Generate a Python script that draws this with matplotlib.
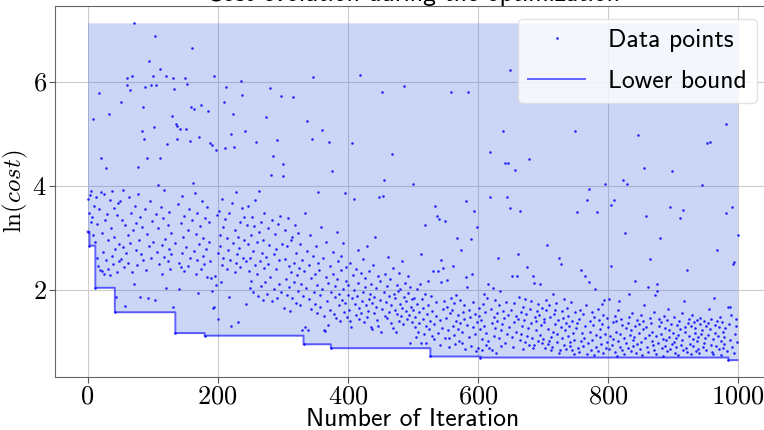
import numpy as np
import matplotlib
matplotlib.use("Agg")
import matplotlib.pyplot as plt
from matplotlib.ticker import FuncFormatter

# ln(cost), one value per iteration (0..999)
log_cost = [
    # 0-49
    3.12, 3.75, 3.48, 2.85, 3.82, 3.30, 3.90, 3.40, 3.05, 5.28,
    3.62, 2.92, 2.04, 3.78, 2.62, 3.26, 2.45, 5.79, 3.55, 2.38,
    4.54, 3.88, 2.36, 3.10, 2.72, 3.84, 2.30, 3.34, 2.58, 4.34,
    3.46, 2.41, 2.95, 5.38, 3.72, 2.28, 3.18, 2.66, 3.90, 2.50,
    3.02, 3.58, 1.57, 2.78, 1.87, 3.44, 2.34, 3.66, 2.88, 2.55,
    # 50-99
    3.70, 5.61, 2.60, 3.35, 2.82, 3.92, 2.44, 1.69, 3.25, 2.70,
    5.93, 6.08, 3.05, 2.52, 3.78, 2.90, 5.84, 3.48, 6.11, 2.35,
    3.15, 2.11, 7.13, 3.62, 2.76, 3.28, 2.48, 4.37, 3.85, 2.95,
    3.40, 1.86, 2.68, 5.06, 3.20, 2.58, 5.52, 4.89, 5.90, 3.55,
    2.38, 4.54, 3.08, 1.85, 2.84, 6.40, 3.70, 5.93, 2.62, 3.32,
    # 100-149
    2.92, 6.11, 5.12, 6.88, 1.80, 3.45, 5.94, 2.72, 4.02, 3.18,
    2.50, 6.24, 4.54, 3.60, 2.86, 2.30, 3.38, 2.64, 3.92, 2.98,
    2.03, 6.11, 4.80, 3.25, 2.55, 3.50, 2.78, 2.40, 3.10, 2.68,
    5.34, 1.68, 6.08, 5.85, 2.90, 1.17, 5.19, 4.89, 5.14, 3.65,
    2.01, 2.52, 5.09, 3.28, 2.44, 3.80, 2.70, 3.02, 2.36, 3.42,
    # 150-199
    6.08, 2.82, 5.09, 5.95, 3.15, 2.46, 3.55, 4.86, 2.62, 5.52,
    3.35, 6.64, 4.05, 5.47, 2.74, 3.86, 2.30, 3.08, 2.58, 3.48,
    1.94, 4.94, 2.88, 3.22, 5.56, 2.40, 3.70, 2.66, 3.00, 2.50,
    1.12, 3.38, 2.78, 2.25, 3.60, 5.43, 2.92, 3.30, 2.55, 4.83,
    2.22, 1.98, 4.78, 1.66, 6.11, 1.67, 2.26, 4.68, 2.09, 3.44,
    # 200-249
    2.70, 1.44, 3.52, 2.84, 3.05, 2.16, 3.75, 2.48, 3.20, 2.62,
    5.61, 4.72, 3.36, 5.90, 2.40, 3.00, 2.76, 1.86, 3.48, 2.58,
    5.00, 1.30, 3.66, 5.38, 2.90, 4.75, 2.34, 3.15, 2.52, 3.88,
    2.68, 3.02, 1.39, 2.80, 3.30, 2.44, 6.02, 3.58, 5.75, 2.62,
    2.95, 3.40, 5.06, 1.72, 2.56, 3.24, 2.88, 3.62, 2.36, 2.04,
    # 250-299
    2.62, 3.05, 2.18, 3.40, 2.75, 1.95, 3.22, 2.48, 3.73, 4.85,
    2.30, 2.92, 1.88, 3.12, 3.89, 2.55, 2.08, 3.30, 2.70, 1.80,
    2.96, 2.42, 3.48, 2.15, 5.33, 2.64, 1.92, 3.18, 2.50, 2.86,
    5.87, 2.25, 4.20, 1.79, 3.35, 4.58, 2.68, 2.02, 3.08, 2.40,
    2.78, 1.85, 4.87, 3.26, 2.12, 2.58, 3.42, 5.73, 1.95, 2.88,
    # 300-349
    4.19, 4.42, 1.66, 2.60, 3.15, 2.20, 2.84, 1.90, 3.38, 2.46,
    2.05, 1.59, 2.95, 2.34, 3.02, 1.84, 5.71, 2.52, 2.16, 3.25,
    1.75, 2.70, 2.28, 1.98, 3.10, 2.42, 1.70, 2.88, 2.12, 1.23,
    2.58, 1.88, 0.955, 2.36, 3.48, 1.28, 2.04, 2.74, 5.24, 1.23,
    2.48, 1.82, 3.05, 2.22, 1.64, 4.90, 2.66, 6.09, 1.95, 2.30,
    # 350-399
    1.72, 2.85, 2.10, 1.56, 2.52, 3.88, 2.38, 1.90, 1.68, 3.20,
    2.02, 5.08, 2.62, 1.50, 1.23, 1.21, 2.25, 2.92, 1.78, 1.33,
    2.14, 4.85, 2.45, 1.62, 0.88, 1.96, 4.29, 2.30, 2.72, 1.54,
    2.08, 1.86, 1.46, 3.12, 2.20, 2.56, 1.70, 1.92, 1.40, 2.38,
    2.66, 1.80, 2.02, 2.90, 1.58, 1.74, 3.87, 2.18, 2.44, 1.48,
    # 400-449
    1.90, 2.10, 1.62, 1.40, 2.52, 1.29, 1.84, 4.83, 2.28, 3.75,
    2.00, 1.72, 2.40, 1.52, 1.88, 2.76, 2.14, 1.44, 1.66, 6.13,
    2.32, 1.55, 1.78, 2.60, 1.95, 1.38, 2.22, 2.06, 1.70, 1.48,
    2.84, 1.60, 1.82, 2.36, 1.92, 1.28, 2.12, 1.74, 1.24, 2.48,
    1.56, 1.86, 3.02, 2.04, 1.68, 1.42, 2.26, 1.30, 3.78, 1.80,
    # 450-499
    2.18, 1.20, 5.81, 1.64, 3.81, 4.12, 1.96, 2.30, 1.50, 1.76,
    1.45, 2.08, 2.64, 1.58, 1.88, 2.20, 1.36, 1.70, 4.62, 1.27,
    2.42, 1.92, 1.62, 1.84, 1.19, 1.54, 2.10, 1.98, 2.32, 1.40,
    1.72, 2.02, 1.50, 2.56, 1.66, 1.34, 1.86, 5.91, 2.14, 1.60,
    1.78, 1.44, 2.26, 1.94, 1.52, 0.98, 2.06, 1.68, 1.82, 1.38,
    # 500-549
    1.62, 4.04, 1.85, 1.28, 1.48, 1.10, 2.02, 1.72, 1.20, 1.58,
    1.36, 2.11, 2.68, 0.98, 1.82, 1.44, 1.66, 1.15, 3.24, 1.92,
    1.30, 0.98, 1.54, 2.18, 1.70, 1.24, 1.40, 0.72, 1.88, 1.60,
    1.12, 2.37, 1.34, 1.05, 3.62, 1.76, 1.50, 3.42, 2.36, 1.18,
    3.36, 1.42, 0.94, 2.58, 2.15, 1.26, 1.64, 2.42, 1.78, 1.08,
    # 550-599
    3.32, 1.46, 2.19, 1.68, 1.22, 0.90, 1.07, 1.56, 5.81, 1.84,
    1.62, 1.30, 2.45, 1.74, 1.14, 0.96, 1.90, 1.40, 3.00, 1.52,
    1.25, 1.02, 1.80, 1.36, 2.76, 0.97, 1.20, 1.58, 1.70, 1.44,
    0.86, 2.24, 3.70, 1.32, 2.05, 5.81, 1.62, 1.10, 1.48, 0.92,
    2.97, 2.30, 1.28, 1.76, 3.51, 1.54, 1.16, 0.82, 1.38, 3.20,
    # 600-649
    0.88, 1.66, 1.50, 1.24, 0.70, 1.42, 0.84, 1.06, 1.72, 1.92,
    1.30, 1.58, 0.95, 1.18, 1.84, 2.11, 1.02, 0.88, 3.78, 4.65,
    1.64, 1.36, 0.84, 2.04, 1.48, 1.12, 1.80, 1.26, 0.79, 1.56,
    1.40, 2.61, 1.70, 1.08, 1.97, 0.92, 1.22, 1.34, 1.60, 5.06,
    1.46, 0.98, 4.43, 1.76, 1.15, 3.78, 4.43, 1.52, 1.28, 3.58,
    # 650-699
    6.23, 1.62, 1.10, 2.27, 0.90, 1.74, 1.38, 4.31, 1.50, 1.20,
    2.26, 2.68, 1.44, 1.86, 1.04, 3.52, 1.58, 1.16, 1.30, 0.86,
    1.68, 1.42, 1.82, 1.00, 1.54, 1.12, 2.44, 1.26, 0.94, 4.51,
    1.64, 1.36, 1.78, 1.08, 0.89, 2.27, 0.94, 2.13, 1.48, 1.22,
    1.40, 1.60, 1.72, 1.02, 1.52, 1.14, 2.12, 1.32, 1.66, 0.98,
    # 700-749
    1.06, 1.38, 1.44, 0.88, 1.80, 1.62, 2.86, 1.24, 0.96, 1.02,
    1.70, 1.48, 1.10, 0.84, 0.90, 1.92, 1.20, 1.54, 1.34, 1.62,
    1.74, 1.16, 1.00, 1.42, 0.78, 2.61, 0.84, 2.50, 1.28, 1.08,
    1.60, 1.46, 1.82, 0.94, 1.22, 0.86, 1.36, 1.66, 1.50, 1.12,
    1.30, 1.00, 0.92, 1.76, 1.40, 0.85, 1.18, 0.76, 1.04, 1.58,
    # 750-799
    5.06, 1.26, 1.36, 3.50, 0.88, 0.80, 1.44, 1.62, 2.39, 1.02,
    1.18, 1.54, 0.92, 1.08, 2.27, 1.30, 1.70, 0.76, 3.72, 0.98,
    2.15, 3.93, 1.40, 1.20, 0.84, 1.04, 1.58, 1.32, 0.74, 1.48,
    2.02, 1.14, 0.90, 3.49, 0.82, 1.64, 1.42, 1.24, 1.10, 0.96,
    1.73, 1.34, 1.52, 0.78, 1.81, 1.16, 4.04, 0.88, 1.00, 1.46,
    # 800-849
    1.28, 1.83, 0.86, 1.12, 2.46, 3.63, 0.94, 1.06, 1.38, 3.72,
    1.50, 0.80, 1.20, 1.40, 0.72, 1.62, 1.02, 1.78, 0.90, 1.16,
    1.44, 1.32, 0.84, 4.12, 0.76, 1.08, 3.10, 0.98, 1.26, 4.03,
    0.88, 1.36, 1.93, 1.48, 1.14, 1.22, 0.82, 1.56, 1.04, 0.92,
    1.10, 1.30, 2.17, 0.78, 0.96, 1.42, 4.98, 1.34, 1.18, 0.86,
    # 850-899
    1.00, 1.52, 0.74, 1.24, 1.40, 4.35, 1.71, 1.08, 3.41, 1.28,
    0.90, 2.05, 0.80, 1.14, 1.46, 2.60, 1.36, 1.02, 1.20, 0.94,
    0.84, 1.58, 1.91, 0.76, 1.12, 1.98, 2.11, 0.98, 1.30, 1.44,
    2.99, 1.16, 1.38, 0.88, 1.06, 0.72, 1.50, 1.26, 0.92, 1.04,
    1.42, 0.82, 1.64, 1.10, 1.22, 3.60, 0.86, 1.34, 0.96, 4.29,
    # 900-949
    1.18, 1.00, 1.48, 0.78, 0.90, 1.08, 1.32, 0.74, 1.14, 1.40,
    3.38, 1.24, 0.94, 1.56, 1.04, 3.54, 0.84, 1.78, 1.28, 1.20,
    0.88, 2.39, 0.80, 1.36, 1.44, 1.12, 0.96, 0.76, 1.30, 1.52,
    1.06, 0.92, 1.38, 1.18, 1.26, 0.82, 1.42, 1.02, 1.10, 0.86,
    0.78, 1.34, 1.46, 1.16, 4.02, 1.22, 0.90, 0.98, 1.40, 1.08,
    # 950-999
    0.84, 1.30, 4.83, 1.36, 1.14, 1.63, 4.85, 1.24, 0.94, 1.44,
    0.80, 0.76, 1.06, 1.84, 1.32, 1.18, 0.92, 1.40, 2.77, 1.12,
    0.86, 1.28, 1.48, 0.74, 1.02, 1.38, 1.20, 0.88, 1.10, 0.96,
    1.26, 3.47, 5.19, 0.82, 1.68, 0.65, 1.34, 1.68, 1.04, 1.52,
    0.90, 3.59, 2.50, 2.54, 0.78, 1.16, 1.44, 1.30, 1.00, 3.05,
]
iterations = np.arange(len(log_cost))
x_ticks = [0, 200, 400, 600, 800, 1000]
y_ticks = [2, 4, 6]

cost = np.array(log_cost)
lower_bound = np.minimum.accumulate(cost)

plt.rcParams['font.family'] = 'cmss10'
plt.rcParams['mathtext.fontset'] = 'cm'
plt.rcParams['axes.unicode_minus'] = False

fig = plt.figure(figsize=(7.64, 4.30), dpi=100)
ax = fig.add_axes([55 / 764, 53 / 430, 715 / 764, 371 / 430])

ax.grid(True, color='#cccccc', linewidth=0.8)
ax.set_axisbelow(True)

# shaded region between the running minimum and the worst cost
ax.fill_between(iterations, lower_bound, cost.max(), step='post',
                color='royalblue', alpha=0.27, linewidth=0)
ax.plot(iterations, cost, '.', color='#2222ff', markersize=1.7,
        label='Data points')
ax.plot(iterations, lower_bound, drawstyle='steps-post', color='blue',
        alpha=0.6, linewidth=1.4, label='Lower bound')

ax.set_xticks(x_ticks)
ax.set_yticks(y_ticks)
fmt = FuncFormatter(lambda v, p: '$%d$' % v)
ax.xaxis.set_major_formatter(fmt)
ax.yaxis.set_major_formatter(fmt)
ax.tick_params(labelsize=19, colors='#555555', labelcolor='black',
               length=4, pad=2)

for s in ax.spines.values():
    s.set_color('#666666')

ax.set_xlabel('Number of Iteration', fontsize=18.5, labelpad=0)
ax.set_ylabel(r'$\ln(cost)$', fontsize=18)
ax.yaxis.set_label_coords(-0.035, 0.5)
ax.set_title('Cost evolution during the optimization', fontsize=18.5, pad=0)

ax.legend(loc='upper right', fontsize=18.5, fancybox=True,
          framealpha=0.8, edgecolor='#dddddd', labelspacing=0.7,
          handlelength=2.2, handletextpad=0.9)

plt.savefig('out.png', dpi=100)
